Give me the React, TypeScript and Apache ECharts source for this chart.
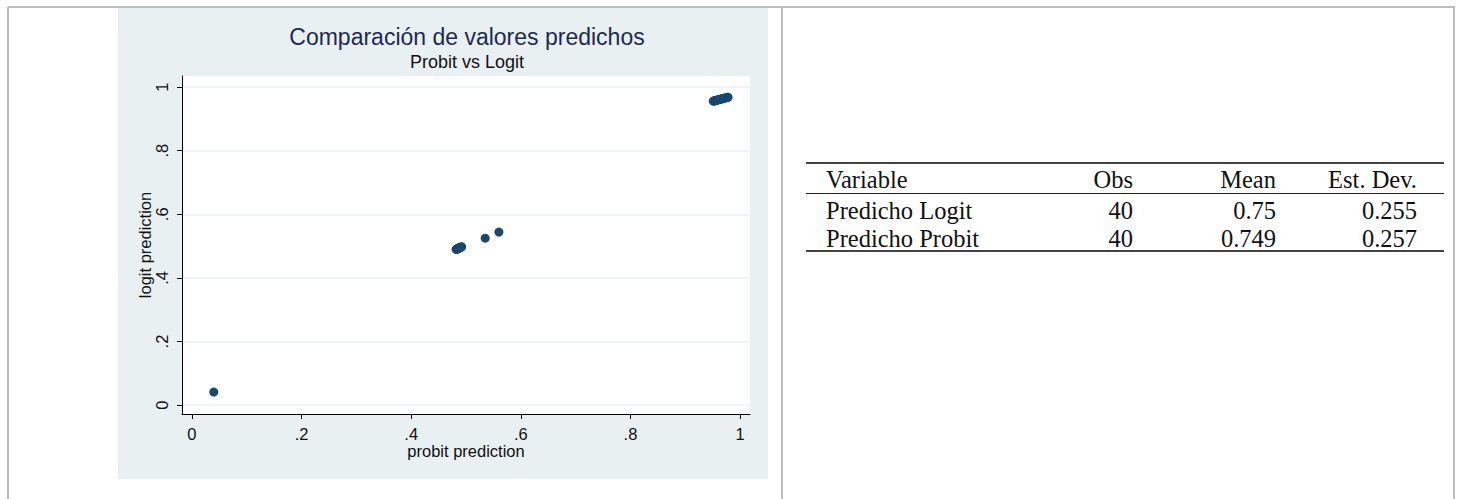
import React, { useEffect, useRef } from "react";
import * as echarts from "echarts";

// Scatter data: probit prediction (x) vs logit prediction (y)
const probitPred: number[] = [
  0.040,
  0.482, 0.483, 0.484, 0.484, 0.485, 0.485, 0.486, 0.487, 0.487, 0.488, 0.489, 0.490, 0.491, 0.492,
  0.535, 0.560,
  0.951, 0.952, 0.953, 0.954, 0.955, 0.956, 0.957, 0.958, 0.959, 0.960, 0.961, 0.962, 0.963, 0.964,
  0.966, 0.967, 0.968, 0.970, 0.971, 0.973, 0.975, 0.977, 0.978,
];
const logitPred: number[] = [
  0.041,
  0.490, 0.490, 0.491, 0.491, 0.492, 0.492, 0.493, 0.494, 0.494, 0.495, 0.495, 0.496, 0.497, 0.498,
  0.525, 0.544,
  0.956, 0.956, 0.957, 0.957, 0.958, 0.958, 0.959, 0.959, 0.960, 0.960, 0.961, 0.961, 0.962, 0.962,
  0.963, 0.963, 0.964, 0.965, 0.965, 0.966, 0.967, 0.968, 0.968,
];
const axisTicks: number[] = [0, 0.2, 0.4, 0.6, 0.8, 1];

// Summary table
const tableHeader: string[] = ["Variable", "Obs", "Mean", "Est. Dev."];
const tableVariables: string[] = ["Predicho Logit", "Predicho Probit"];
const tableObs: string[] = ["40", "40"];
const tableMean: string[] = ["0.75", "0.749"];
const tableSd: string[] = ["0.255", "0.257"];

const fmtTick = (v: number) => {
  const r = Math.round(v * 10) / 10;
  if (r === 0) return "0";
  if (r === 1) return "1";
  return String(r).replace(/^0/, "");
};

export default function App() {
  const ref = useRef<HTMLDivElement>(null);
  useEffect(() => {
    if (!ref.current) return;
    const chart = echarts.init(ref.current, undefined, { renderer: "svg" });
    const sans = "Liberation Sans, Arial, sans-serif";
    const serif = "Liberation Serif, Times New Roman, serif";
    const colRight = [0, 1133, 1276, 1417];
    const rowY = [179, 210, 238];
    const tableTexts: any[] = [];
    const pushRow = (cells: string[], y: number) => {
      cells.forEach((c, i) => {
        tableTexts.push({
          type: "text",
          style: {
            text: c,
            x: i === 0 ? 826 : colRight[i],
            y,
            textAlign: i === 0 ? "left" : "right",
            textVerticalAlign: "middle",
            font: `24.5px ${serif}`,
            fill: "#111",
          },
        });
      });
    };
    pushRow(tableHeader, rowY[0]);
    tableVariables.forEach((v, r) => {
      pushRow([v, tableObs[r], tableMean[r], tableSd[r]], rowY[r + 1]);
    });

    chart.setOption({
      animation: false,
      backgroundColor: "#ffffff",
      graphic: [
        { type: "rect", z: -10, shape: { x: 118, y: 8, width: 650, height: 471 }, style: { fill: "#e9f0f2" } },
        { type: "rect", z: -9, shape: { x: 182, y: 76, width: 568, height: 338 }, style: { fill: "#ffffff" } },
        { type: "line", shape: { x1: 8, y1: 7, x2: 1455, y2: 7 }, style: { stroke: "#bdbdbd", lineWidth: 2 } },
        { type: "line", shape: { x1: 8, y1: 7, x2: 8, y2: 499 }, style: { stroke: "#bdbdbd", lineWidth: 2 } },
        { type: "line", shape: { x1: 782, y1: 7, x2: 782, y2: 499 }, style: { stroke: "#bdbdbd", lineWidth: 2 } },
        { type: "line", shape: { x1: 1454, y1: 7, x2: 1454, y2: 499 }, style: { stroke: "#bdbdbd", lineWidth: 2 } },
        { type: "line", shape: { x1: 806, y1: 163, x2: 1444, y2: 163 }, style: { stroke: "#444", lineWidth: 2 } },
        { type: "line", shape: { x1: 806, y1: 193.5, x2: 1444, y2: 193.5 }, style: { stroke: "#222", lineWidth: 1 } },
        { type: "line", shape: { x1: 806, y1: 251, x2: 1444, y2: 251 }, style: { stroke: "#444", lineWidth: 2 } },
        ...tableTexts,
        {
          type: "text",
          style: {
            text: "Comparación de valores predichos",
            x: 467,
            y: 37,
            textAlign: "center",
            textVerticalAlign: "middle",
            font: `23px ${sans}`,
            fill: "#1c2a54",
          },
        },
        {
          type: "text",
          style: {
            text: "Probit vs Logit",
            x: 467,
            y: 62,
            textAlign: "center",
            textVerticalAlign: "middle",
            font: `18px ${sans}`,
            fill: "#111",
          },
        },
      ],
      grid: { left: 182, top: 76, width: 568, height: 338, containLabel: false },
      xAxis: {
        type: "value",
        min: -0.018,
        max: 1.018,
        name: "probit prediction",
        nameLocation: "middle",
        nameGap: 28,
        nameMoveOverlap: false,
        nameTextStyle: { fontFamily: sans, fontSize: 16.5, color: "#111" },
        axisLine: { show: true, onZero: false, lineStyle: { color: "#000", width: 1 } },
        axisTick: { show: true, length: 5, customValues: axisTicks, lineStyle: { color: "#000" } },
        axisLabel: {
          customValues: axisTicks,
          formatter: fmtTick,
          fontFamily: sans,
          fontSize: 16.5,
          color: "#111",
          margin: 11,
        },
        splitLine: { show: false },
      },
      yAxis: {
        type: "value",
        min: -0.028,
        max: 1.035,
        name: "logit prediction",
        nameLocation: "middle",
        nameGap: 29,
        nameRotate: 90,
        nameMoveOverlap: false,
        nameTextStyle: { fontFamily: sans, fontSize: 16.5, color: "#111" },
        axisLine: { show: true, onZero: false, lineStyle: { color: "#000", width: 1 } },
        axisTick: { show: true, length: 5, customValues: axisTicks, lineStyle: { color: "#000" } },
        axisLabel: {
          customValues: axisTicks,
          formatter: fmtTick,
          rotate: 90,
          fontFamily: sans,
          fontSize: 16.5,
          color: "#111",
          margin: 12,
        },
        splitLine: { show: true, lineStyle: { color: "#eaf2f3", width: 1.5 } },
      },
      series: [
        {
          type: "scatter",
          data: probitPred.map((x, i) => [x, logitPred[i]]),
          symbol: "circle",
          symbolSize: 9,
          itemStyle: { color: "#1a476f", opacity: 1 },
        },
      ],
    });
    return () => chart.dispose();
  }, []);
  return (
    <div
      ref={ref}
      style={{ position: "fixed", left: 0, top: 0, width: 1461, height: 499 }}
    />
  );
}
